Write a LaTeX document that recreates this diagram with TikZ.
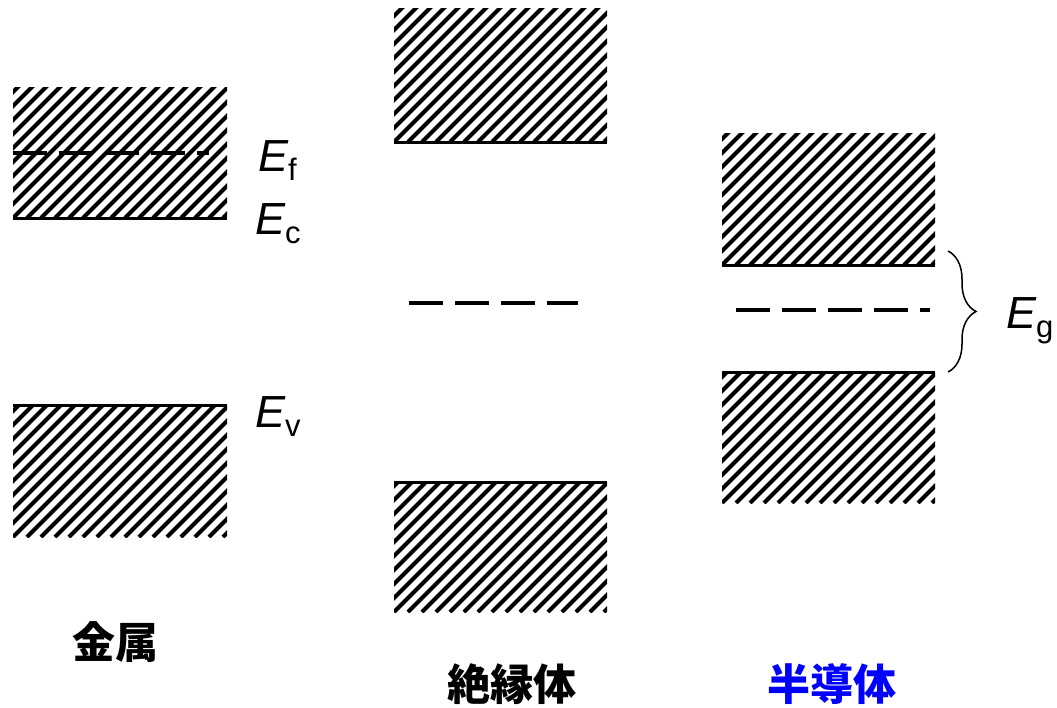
\documentclass[tikz,border=0pt]{standalone}
\usepackage{fontspec}
\setmainfont{Liberation Sans}
\newfontfamily\cjk{Noto Sans CJK JP}
\usetikzlibrary{decorations.pathreplacing}
\newcommand{\elab}[1]{{\itshape E}\raisebox{-9pt}{\fontsize{31}{31}\selectfont #1}}
\tikzset{
  band/.style={inner sep=0pt, outer sep=0pt, anchor=north west,
    path picture={
      \foreach \i in {-12,...,17}
        \draw[line width=4pt] ([xshift=\i*14pt]path picture bounding box.south west) -- ++(170pt,170pt);
    }},
  level/.style={line width=3pt},
  fermi/.style={line width=4pt, dash pattern=on 34pt off 12pt},
  elabel/.style={anchor=base west, inner sep=0pt, font=\fontsize{45}{45}\selectfont},
  mat/.style={inner sep=0pt, font=\cjk\bfseries\fontsize{43}{43}\selectfont},
  gapbrace/.style={decorate, decoration={brace, amplitude=28pt}, line width=1.5pt}
}
\begin{document}
\begin{tikzpicture}[x=1pt, y=-1pt]
\useasboundingbox (0,0) rectangle (1057,707);
% metal
\node[band, minimum width=214pt, minimum height=131pt] (m1) at (13,87) {};
\node[band, minimum width=214pt, minimum height=132pt] (m2) at (13,405) {};
\draw[level] (m1.south west) -- (m1.south east);
\draw[level] (m2.north west) -- (m2.north east);
\coordinate (mf1) at (13,153);
\coordinate (mf2) at (209,153);
\draw[fermi] (mf1) -- (mf2);
\node[elabel] (ef) at (258,171) {\elab{f}};
\node[elabel] (ec) at (255,234) {\elab{c}};
\node[elabel] (ev) at (255,427) {\elab{v}};
\node[mat] (metal) at (115,642) {金属};
% insulator
\node[band, minimum width=213pt, minimum height=134pt] (i1) at (394,8) {};
\node[band, minimum width=213pt, minimum height=130pt] (i2) at (394,482) {};
\draw[level] (i1.south west) -- (i1.south east);
\draw[level] (i2.north west) -- (i2.north east);
\coordinate (if1) at (409,303);
\coordinate (if2) at (578,303);
\draw[fermi] (if1) -- (if2);
\node[mat] (ins) at (512,684) {絶縁体};
% semiconductor
\node[band, minimum width=213pt, minimum height=132pt] (s1) at (722,133) {};
\node[band, minimum width=213pt, minimum height=131pt] (s2) at (722,372) {};
\draw[level] (s1.south west) -- (s1.south east);
\draw[level] (s2.north west) -- (s2.north east);
\coordinate (sf1) at (736,310);
\coordinate (sf2) at (930,310);
\draw[fermi] (sf1) -- (sf2);
\coordinate (b1) at (948,251);
\coordinate (b2) at (948,372);
\draw[gapbrace] (b1) -- (b2);
\node[elabel] (eg) at (1006,328) {\elab{g}};
\node[mat, text={rgb,255:red,0;green,0;blue,255}] (semi) at (832,684) {半導体};
\end{tikzpicture}
\end{document}
